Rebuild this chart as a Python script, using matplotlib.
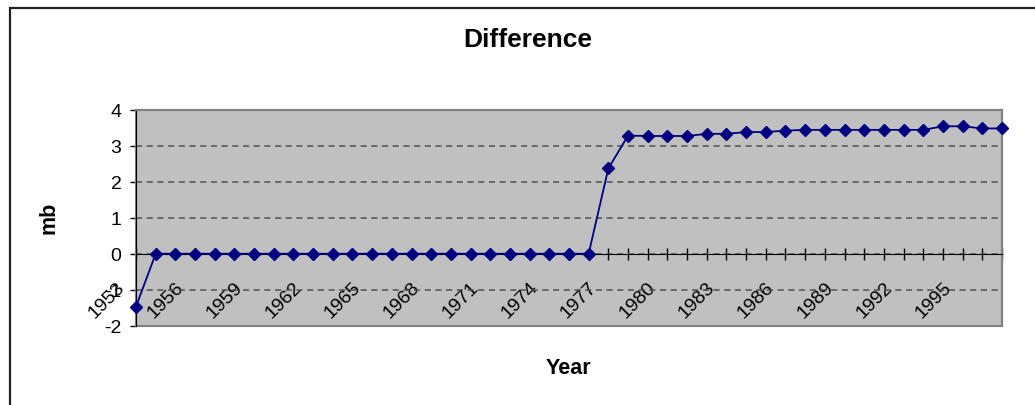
import matplotlib
matplotlib.use("Agg")
import matplotlib.pyplot as plt
import matplotlib.transforms as mtransforms
from matplotlib.patches import Rectangle

plt.rcParams['font.family'] = ['Liberation Sans', 'DejaVu Sans']

# Yearly difference (mb)
years = list(range(1953, 1998))
diff = [-1.47,
        0, 0, 0, 0, 0, 0, 0, 0, 0, 0, 0, 0, 0, 0, 0, 0, 0, 0, 0, 0, 0, 0, 0,
        2.37, 3.28, 3.27, 3.27, 3.27, 3.33, 3.33, 3.38, 3.38, 3.42,
        3.44, 3.44, 3.44, 3.44, 3.44, 3.44, 3.44, 3.54, 3.54, 3.48, 3.48]
yticks = [-2, -1, 0, 1, 2, 3, 4]
label_years = years[::3]

fig = plt.figure(figsize=(10.35, 4.06), dpi=100)
ax = fig.add_axes([0.1314, 0.1953, 0.8367, 0.5320])
ax.set_facecolor('#C0C0C0')

# outer chart border, runs off the right and bottom edges
fig.patches.append(Rectangle((0.0092, -0.5), 2.0, 1.4778, transform=fig.transFigure,
                             fill=False, ec='#222222', lw=1.6))

ax.plot(years, diff, color='#000080', lw=1.3, marker='D', ms=6.2,
        mfc='#000080', mec='#000080', zorder=5, clip_on=False)

ax.set_xlim(1953, 1997)
ax.set_ylim(-2, 4)
ax.set_yticks(yticks)
ax.set_yticklabels([str(v) for v in yticks])
ax.set_xticks(years)
ax.set_xticklabels([str(y) if y in label_years else '' for y in years])

ax.set_axisbelow(True)
ax.grid(axis='y', ls=(0, (4, 3)), color='#505050', lw=1.1)

# category axis crosses at zero
ax.spines['bottom'].set_position(('data', 0))
ax.spines['bottom'].set_color('black')
ax.spines['left'].set_color('black')
for side in ['top', 'right']:
    ax.spines[side].set_color('#808080')
    ax.spines[side].set_linewidth(1.5)
ax.add_patch(Rectangle((0, 0), 1, 1, transform=ax.transAxes, fill=False,
                       ec='#808080', lw=1.5, zorder=2.4, clip_on=False))

ax.tick_params(axis='x', direction='inout', length=8, width=1, color='black',
               labelsize=14, pad=0)
ax.tick_params(axis='y', direction='out', length=4.5, width=1, color='black',
               labelsize=14, pad=6)

shift = mtransforms.ScaledTranslation(-14 / 100, -25 / 100, fig.dpi_scale_trans)
for lab in ax.get_xticklabels():
    lab.set_rotation(45)
    lab.set_rotation_mode('anchor')
    lab.set_ha('right')
    lab.set_va('center')
    lab.set_transform(lab.get_transform() + shift)

ax.set_title('Difference', fontsize=19, fontweight='bold', x=0.452, y=1.2935, pad=0)
ax.set_xlabel('Year', fontsize=15.5, fontweight='bold', va='baseline')
ax.xaxis.set_label_coords(0.499, -0.2204)
ax.set_ylabel('mb', fontsize=15.5, fontweight='bold', va='center')
ax.yaxis.set_label_coords(-0.1005, 0.503)

fig.savefig('out.png', dpi=100)
